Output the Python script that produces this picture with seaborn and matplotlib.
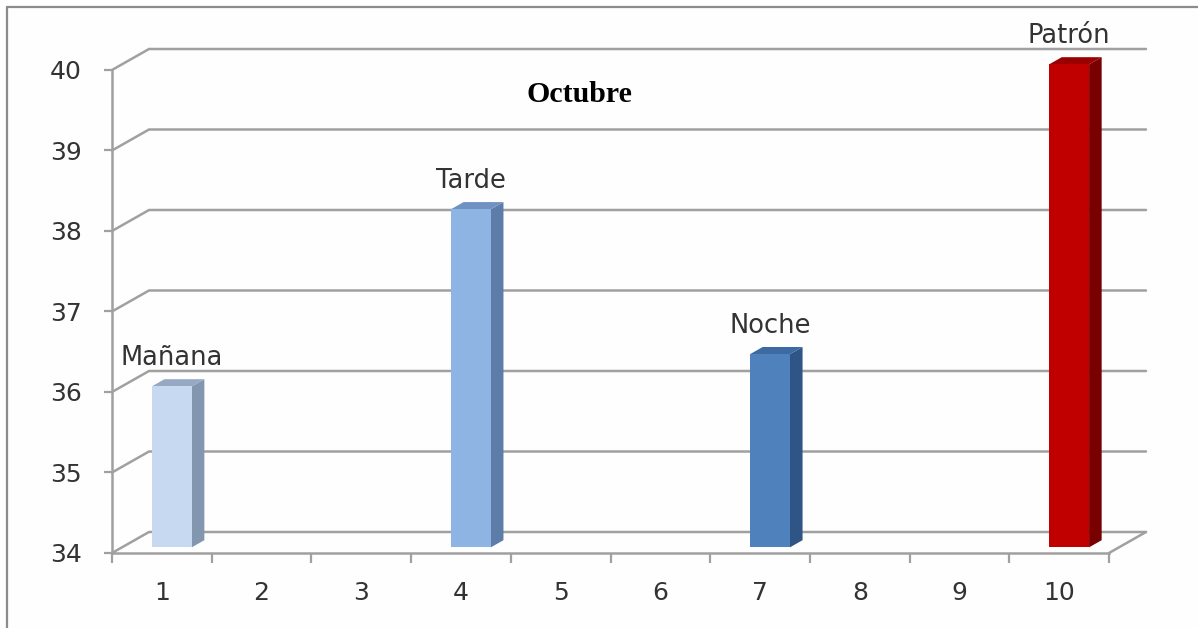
import numpy as np
import pandas as pd
import matplotlib
matplotlib.use("Agg")
import matplotlib.pyplot as plt
from matplotlib.patches import Polygon
from matplotlib.lines import Line2D
from matplotlib.transforms import IdentityTransform, offset_copy
import seaborn as sns

# ---- data -------------------------------------------------------------
categorias = [str(i) for i in range(1, 11)]
series = ["Mañana", "Tarde", "Noche", "Patrón"]
posiciones = ["1", "4", "7", "10"]
valores = [36.0, 38.2, 36.4, 40.0]
y_ticks = [34, 35, 36, 37, 38, 39, 40]
titulo = "Octubre"

# ---- styling ----------------------------------------------------------
color_frente = ["#C6D9F1", "#8DB4E2", "#4F81BD", "#C00000"]
color_lado = ["#8396AF", "#5C7DA8", "#2F5587", "#780000"]
color_tapa = ["#95A9C4", "#7092C2", "#3D6AA3", "#9A0000"]
GRIS = "#A0A0A0"
TEXTO = "#333333"

W, H, DPI = 1198, 628, 100
sns.set_style("white")
plt.rcParams["font.family"] = ["DejaVu Sans"]

fig = plt.figure(figsize=(W / DPI, H / DPI), dpi=DPI)
fig.patch.set_facecolor("#FEFEFE")

# front plane of the 3-D box
ax = fig.add_axes([112 / W, 75 / H, 997 / W, 483 / H])
ax.patch.set_visible(False)

df = pd.DataFrame({"pos": posiciones, "valor": valores, "serie": series})
sns.barplot(data=df, x="pos", y="valor", hue="serie", order=categorias,
            hue_order=series, palette=color_frente, dodge=False, width=0.4,
            saturation=1, legend=False, ax=ax)

ax.set_xlim(-0.5, 9.5)
ax.set_ylim(y_ticks[0], y_ticks[-1])
ax.set_autoscale_on(False)
ax.set_xlabel("")
ax.set_ylabel("")

# depth vector of the box (pixels) and depth slice occupied by the bars
D = np.array([37.0, 21.0])
F0, F1 = 0.27, 0.61
Y0 = y_ticks[0]


def proj(x, y, f):
    return ax.transData.transform((x, y)) + f * D


# back wall gridlines and side-wall diagonals
for yv in y_ticks:
    a, b = proj(-0.5, yv, 0), proj(-0.5, yv, 1)
    c = proj(9.5, yv, 1)
    fig.add_artist(Line2D([a[0], b[0], c[0]], [a[1], b[1], c[1]],
                          transform=IdentityTransform(), color=GRIS,
                          lw=1.8, zorder=-1, solid_joinstyle="miter"))
# right edge of the floor
a, b = proj(9.5, Y0, 0), proj(9.5, Y0, 1)
fig.add_artist(Line2D([a[0], b[0]], [a[1], b[1]], transform=IdentityTransform(),
                      color=GRIS, lw=1.8, zorder=-1))

# 3-D bars: front face from seaborn, side and top faces derived from it
bar_tr = offset_copy(ax.transData, fig=fig, x=F0 * D[0], y=F0 * D[1], units="dots")
for p in list(ax.patches):
    x0, w, v = p.get_x(), p.get_width(), p.get_height()
    if not np.isfinite(v) or w == 0:
        continue
    cx = x0 + w / 2
    i = posiciones.index(categorias[int(round(cx))])
    p.set_y(Y0)
    p.set_height(v - Y0)
    p.set_transform(bar_tr)
    p.set_linewidth(0)
    p.set_clip_on(False)
    p.set_zorder(3)
    lado = [proj(x0 + w, Y0, F0), proj(x0 + w, v, F0),
            proj(x0 + w, v, F1), proj(x0 + w, Y0, F1)]
    tapa = [proj(x0, v, F0), proj(x0 + w, v, F0),
            proj(x0 + w, v, F1), proj(x0, v, F1)]
    ax.add_patch(Polygon(lado, closed=True, transform=IdentityTransform(),
                         facecolor=color_lado[i], edgecolor="none",
                         clip_on=False, zorder=2))
    ax.add_patch(Polygon(tapa, closed=True, transform=IdentityTransform(),
                         facecolor=color_tapa[i], edgecolor="none",
                         clip_on=False, zorder=2))
    ax.annotate(series[i], xy=(cx, v), xytext=(F0 * D[0] * 0.72, 34 * 0.72),
                textcoords="offset points", ha="center", va="center",
                fontsize=18.5, color=TEXTO, annotation_clip=False)

# axes: front left edge and floor front edge
for s in ("top", "right"):
    ax.spines[s].set_visible(False)
for s in ("left", "bottom"):
    ax.spines[s].set_color(GRIS)
    ax.spines[s].set_linewidth(1.8)

ax.set_yticks(y_ticks)
ax.set_yticklabels([str(t) for t in y_ticks])
ax.tick_params(axis="y", left=True, length=5.8, width=1.6, color=GRIS,
               pad=16, labelsize=18, labelcolor=TEXTO, direction="out")

ax.set_xticks(np.arange(-0.5, 10, 1.0))
ax.set_xticklabels([])
ax.set_xticks(range(len(categorias)), labels=categorias, minor=True)
ax.tick_params(axis="x", which="major", bottom=True, length=7, width=1.6,
               color=GRIS, direction="out")
ax.tick_params(axis="x", which="minor", bottom=True, length=0, pad=20,
               labelsize=18, labelcolor=TEXTO)

# outer chart frame (top and left)
fig.add_artist(Line2D([7 / W, 1], [1 - 7 / H, 1 - 7 / H], transform=fig.transFigure,
                      color="#8C8C8C", lw=1.6))
fig.add_artist(Line2D([7 / W, 7 / W], [0, 1 - 7 / H], transform=fig.transFigure,
                      color="#8C8C8C", lw=1.6))

fig.text(579 / W, 1 - 95 / H, titulo, ha="center", va="center", fontsize=21.5,
         fontweight="bold", family="Liberation Serif", color="black")

fig.savefig("out.png", dpi=DPI)
